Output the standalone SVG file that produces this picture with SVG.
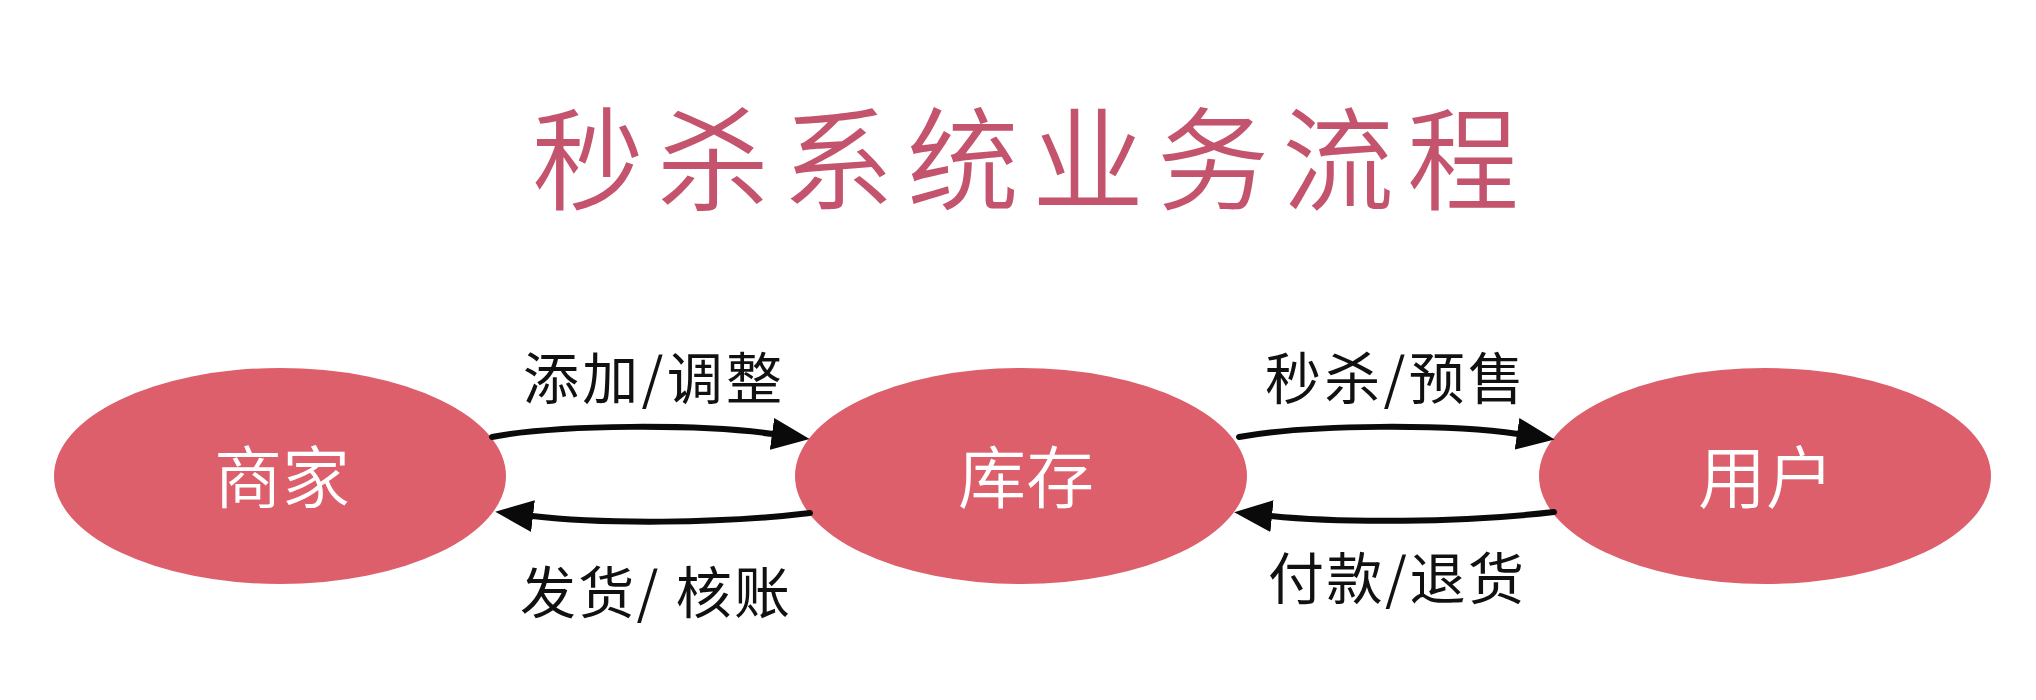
<svg xmlns="http://www.w3.org/2000/svg" width="2036" height="700" viewBox="0 0 2036 700">
<style>
.title{font-family:"Noto Sans CJK SC","Noto Sans",sans-serif;font-size:112px;fill:#C4546E;font-weight:350}
.node ellipse{fill:#DC5F6B}
.node text{font-family:"Noto Sans CJK SC","Noto Sans",sans-serif;font-size:68px;fill:#ffffff;text-anchor:middle;font-weight:350}
.lbl{font-family:"Noto Sans CJK SC","Noto Sans",sans-serif;font-size:56px;fill:#111111}
.conn{fill:none;stroke:#0a0a0a;stroke-width:6;stroke-linecap:round;marker-end:url(#ah)}
</style>
<defs>
<marker id="ah" viewBox="0 0 38 32" refX="1" refY="16" markerWidth="38" markerHeight="32" markerUnits="userSpaceOnUse" orient="auto">
<path d="M0,0 L38,16 L0,32 Z" fill="#0a0a0a"/>
</marker>
</defs>
<rect width="2036" height="700" fill="#ffffff"/>
<text class="title" x="532" y="202" textLength="987">秒杀系统业务流程</text>
<g id="node-merchant" class="node">
<ellipse cx="280" cy="476" rx="226" ry="108"/>
<text x="282" y="503">商家</text>
</g>
<g id="node-inventory" class="node">
<ellipse cx="1021" cy="476" rx="226" ry="108"/>
<text x="1026" y="503">库存</text>
</g>
<g id="node-user" class="node">
<ellipse cx="1765" cy="476" rx="226" ry="108"/>
<text x="1766" y="503">用户</text>
</g>
<g id="connectors">
<path class="conn" d="M492,437 C560,424 700,424 773,434"/>
<path class="conn" d="M810,513 C720,524 600,524 532,516"/>
<path class="conn" d="M1239,437 C1310,424 1450,424 1518,434"/>
<path class="conn" d="M1554,512 C1460,523 1340,523 1271,516"/>
<text class="lbl" x="523" y="399" textLength="259">添加/调整</text>
<text class="lbl" x="520" y="613" textLength="270">发货/ 核账</text>
<text class="lbl" x="1265" y="399" textLength="259">秒杀/预售</text>
<text class="lbl" x="1268" y="599" textLength="256">付款/退货</text>
</g>
</svg>
